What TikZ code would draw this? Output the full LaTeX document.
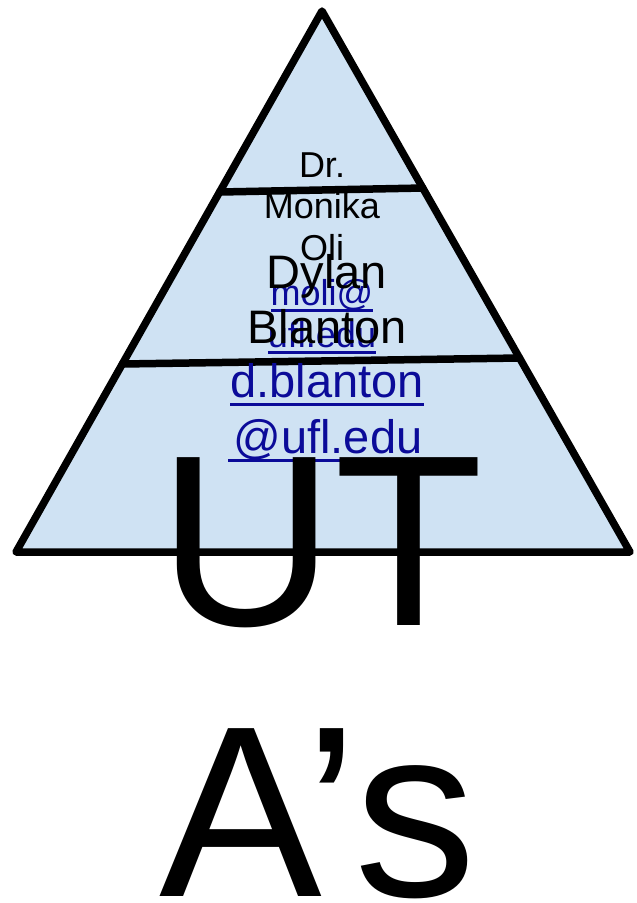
\documentclass[tikz,border=0pt]{standalone}
\usepackage{fontspec}
\setmainfont{Liberation Sans}
\definecolor{tri}{HTML}{CFE2F3}
\definecolor{lnk}{HTML}{0B0B99}
\begin{document}
\begin{tikzpicture}[x=1pt,y=-1pt,
  edge/.style={line width=7.5pt,line join=round,line cap=round},
  smalltxt/.style={anchor=base,inner sep=0pt,font=\fontsize{36}{42}\selectfont},
  midtxt/.style={anchor=base,inner sep=0pt,font=\fontsize{47}{55}\selectfont},
  bigtxt/.style={anchor=base,inner sep=0pt,font=\fontsize{244}{272}\selectfont},
  linkline/.style={lnk,line width=3pt}]
\useasboundingbox (0,0) rectangle (637,903);
\coordinate (apex) at (322,11);
\coordinate (bl) at (16,552);
\coordinate (br) at (630,552);
\fill[tri] (apex) -- (bl) -- (br) -- cycle;
\path (apex) -- (bl) coordinate[pos=0.3346] (l1a);
\path (apex) -- (br) coordinate[pos=0.3272] (l1b);
\path (apex) -- (bl) coordinate[pos=0.6525] (l2a);
\path (apex) -- (br) coordinate[pos=0.6414] (l2b);
\draw[edge] (l1a) -- (l1b);
\draw[edge] (l2a) -- (l2b);
\draw[edge] (apex) -- (bl) -- (br) -- cycle;
% box A
\node[smalltxt] (dr) at (322,177) {Dr.};
\node[smalltxt] (mon) at (322,218) {Monika};
\node[smalltxt] (oli) at (322,260) {Oli};
\node[smalltxt,text=lnk] (moli) at (322,305) {moli@};
\node[smalltxt,text=lnk] (ufa) at (322,347) {ufl.edu};
\draw[linkline] ([yshift=-5pt]moli.base west) -- ([yshift=-5pt]moli.base east);
\draw[linkline] ([yshift=-5pt]ufa.base west) -- ([yshift=-5pt]ufa.base east);
% box B
\node[midtxt] (dyl) at (327,288) {Dylan};
\node[midtxt] (bla) at (327,343) {Blanton};
\node[midtxt,text=lnk] (dbl) at (327,397) {d.blanton};
\node[midtxt,text=lnk] (ufb) at (328,453) {@ufl.edu};
\draw[linkline] ([yshift=-7pt]dbl.base west) -- ([yshift=-7pt]dbl.base east);
\draw[linkline] ([xshift=-5pt,yshift=-7pt]ufb.base west) -- ([yshift=-7pt]ufb.base east);
% big text
\node[bigtxt] (ut) at (321,625) {UT};
\node[bigtxt] (as) at (318,896) {A’s};
\end{tikzpicture}
\end{document}
